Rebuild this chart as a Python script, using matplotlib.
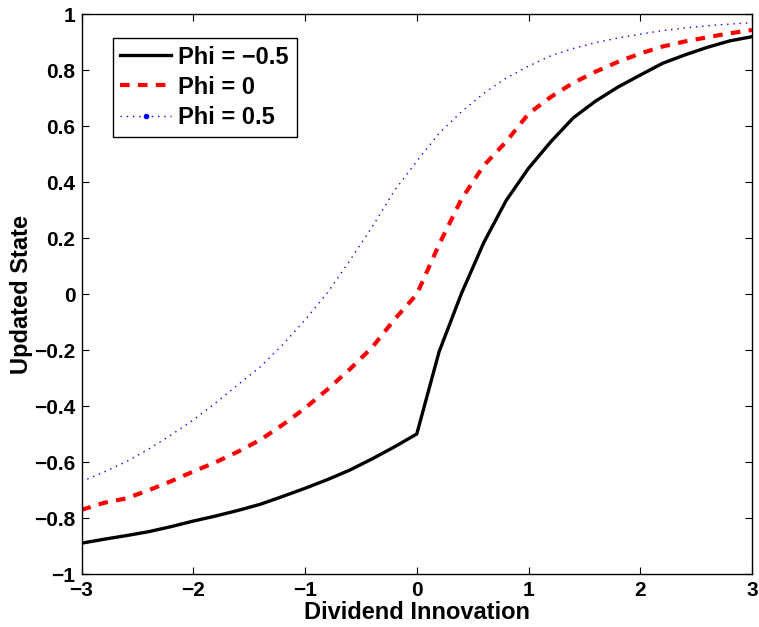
import numpy as np
import matplotlib.pyplot as plt
from matplotlib.lines import Line2D

plt.rcParams['font.family'] = ['Liberation Sans', 'DejaVu Sans']
plt.rcParams['font.weight'] = 'bold'

# dividend innovation grid
x = np.round(np.arange(-3, 3.01, 0.2), 2)

# updated state
phi_neg = [-0.889, -0.875, -0.862, -0.848, -0.830, -0.810, -0.792, -0.772, -0.750, -0.722,
           -0.693, -0.662, -0.628, -0.588, -0.545, -0.499, -0.205, 0.003, 0.185, 0.335,
           0.450, 0.545, 0.630, 0.690, 0.740, 0.783, 0.825, 0.855, 0.882, 0.905, 0.920]
phi_zero = [-0.770, -0.745, -0.729, -0.700, -0.668, -0.633, -0.600, -0.562, -0.520, -0.466,
            -0.407, -0.340, -0.268, -0.190, -0.090, 0.000, 0.178, 0.340, 0.460, 0.545,
            0.645, 0.705, 0.755, 0.795, 0.830, 0.860, 0.885, 0.903, 0.918, 0.932, 0.944]
phi_pos = [-0.669, -0.635, -0.598, -0.553, -0.503, -0.449, -0.388, -0.323, -0.259, -0.180,
           -0.092, 0.005, 0.120, 0.240, 0.370, 0.475, 0.575, 0.652, 0.718, 0.772,
           0.815, 0.852, 0.878, 0.899, 0.915, 0.929, 0.942, 0.951, 0.959, 0.965, 0.970]

labels = ['Phi = \u22120.5', 'Phi = 0', 'Phi = 0.5']
xticks = [-3, -2, -1, 0, 1, 2, 3]
yticks = [-1, -0.8, -0.6, -0.4, -0.2, 0, 0.2, 0.4, 0.6, 0.8, 1]
yticklabels = ['\u22121', '\u22120.8', '\u22120.6', '\u22120.4', '\u22120.2', '0',
               '0.2', '0.4', '0.6', '0.8', '1']
xticklabels = ['\u22123', '\u22122', '\u22121', '0', '1', '2', '3']

red_dash = (0, (2.3, 2.0))
blue_dot = (0, (1.0, 3.5))

fig = plt.figure(figsize=(7.59, 6.27), dpi=100)
ax = fig.add_axes([0.1074, 0.0841, 0.8834, 0.8931])

ax.plot(x, phi_neg, color='k', lw=2.4, solid_joinstyle='round')
ax.plot(x, phi_zero, color='r', lw=3.0, linestyle=red_dash)
ax.plot(x, phi_pos, color='b', lw=1.0, linestyle=blue_dot)

ax.set_xlim(-3, 3)
ax.set_ylim(-1, 1)
ax.set_xticks(xticks)
ax.set_xticklabels(xticklabels)
ax.set_yticks(yticks)
ax.set_yticklabels(yticklabels)
ax.tick_params(direction='in', length=5, width=0.8, top=True, right=True, labelsize=15)
ax.tick_params(axis='x', pad=5)
ax.tick_params(axis='y', pad=4.5)
for sp in ax.spines.values():
    sp.set_linewidth(1.0)

ax.set_xlabel('Dividend Innovation', fontsize=17, fontweight='bold', labelpad=0.5)
ax.set_ylabel('Updated State', fontsize=17, fontweight='bold', labelpad=1)

handles = [
    Line2D([], [], color='k', lw=2.4),
    Line2D([], [], color='r', lw=3.0, linestyle=red_dash),
    Line2D([], [], color='b', lw=1.0, linestyle=blue_dot, marker='.', markersize=6),
]
leg = ax.legend(handles, labels, loc='upper left', bbox_to_anchor=(0.0465, 0.958),
                borderaxespad=0, handlelength=2.15, handletextpad=0.3,
                labelspacing=0.3, borderpad=0.33, fancybox=False, framealpha=1,
                edgecolor='k', prop={'weight': 'bold', 'size': 17})
leg.get_frame().set_linewidth(1.0)

fig.savefig('out.png', dpi=100)
